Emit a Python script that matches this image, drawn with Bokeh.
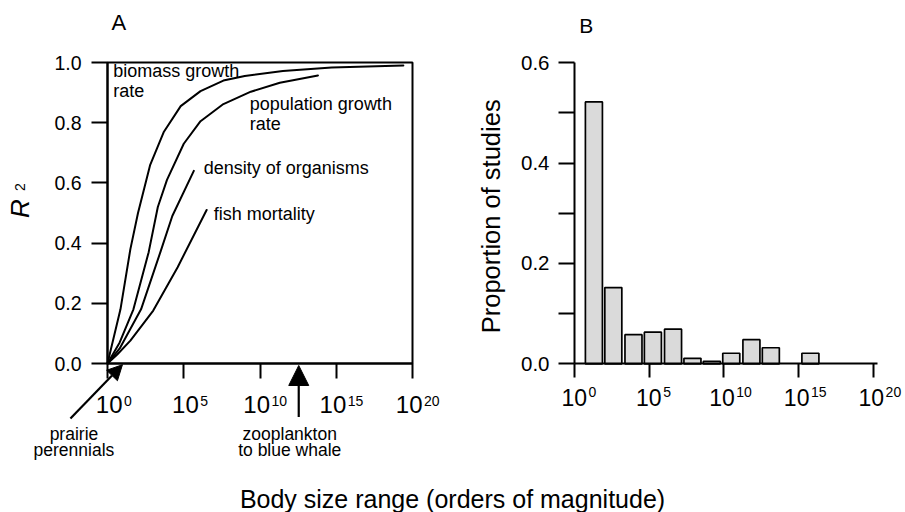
from bokeh.plotting import figure
from bokeh.models import (Range1d, FixedTicker, PrintfTickFormatter, Label, Arrow,
                          NormalHead, LinearAxis, BoxAnnotation)
from bokeh.layouts import column, row
from bokeh.embed import file_html
from bokeh.resources import INLINE

FONT = "Liberation Sans"

# ---------------- data ----------------
# x = body size range, log10 (orders of magnitude); y = R^2
size_exp_ticks = [0, 5, 10, 15, 20]
r2_ticks = [0.0, 0.2, 0.4, 0.6, 0.8, 1.0]

biomass_x = [0, 0.85, 1.5, 2.0, 2.8, 3.7, 4.8, 6.1, 7.6, 9.0, 11.5, 14.7, 19.4]
biomass_y = [0, 0.18, 0.38, 0.50, 0.66, 0.77, 0.855, 0.905, 0.94, 0.955, 0.972, 0.983, 0.99]

population_x = [0, 0.8, 1.7, 2.7, 3.3, 3.9, 5.0, 6.1, 7.6, 9.4, 11.3, 13.8]
population_y = [0, 0.07, 0.18, 0.37, 0.52, 0.61, 0.73, 0.805, 0.862, 0.903, 0.933, 0.957]

density_x = [0, 0.8, 2.2, 3.5, 4.25, 5.66]
density_y = [0, 0.05, 0.18, 0.375, 0.49, 0.64]

fish_x = [0, 0.64, 1.5, 3.0, 4.6, 6.5]
fish_y = [0, 0.03, 0.076, 0.176, 0.32, 0.51]

prairie_exp = 0.98
zooplankton_whale_exp = 12.54

# panel B histogram
bin_exp = [1.3, 2.6, 3.95, 5.25, 6.6, 7.9, 9.2, 10.5, 11.85, 13.15, 15.8]
proportion = [0.522, 0.152, 0.058, 0.063, 0.069, 0.011, 0.005, 0.021, 0.048, 0.032, 0.021]
prop_ticks = [0.0, 0.2, 0.4, 0.6]
prop_minor = [0.1, 0.3, 0.5]

# pixels per data unit (x, y) of each panel
SC_A = (15.25, 301.0)
SC_B = (14.93, 501.7)
SC_C = (1.0, 1.0)


def lab(p, sc, x, y, text, size, align="left", style="normal", x_offset=0):
    """(x, y) is the baseline anchor; Bokeh centres the text box on the anchor,
    so move the anchor from the baseline to the box centre."""
    y = y + 0.3465 * size / sc[1]
    p.add_layout(Label(x=x, y=y, text=text, text_font=FONT, text_font_size=f"{size}px",
                       text_align=align, text_baseline="middle",
                       text_font_style=style, text_color="black", x_offset=x_offset))


def vlab(p, x, y, text, size, style="normal"):
    """vertical (bottom-to-top) text centred on (x, y)."""
    p.add_layout(Label(x=x, y=y, text=text, text_font=FONT, text_font_size=f"{size}px",
                       text_align="center", text_baseline="middle", angle=90,
                       angle_units="deg", text_font_style=style, text_color="black"))


def add_axes(p, xbounds, ybounds, yticker, xtick_out, ytick_out, ystandoff, yfont):
    xa = LinearAxis(fixed_location=0, bounds=xbounds, ticker=FixedTicker(ticks=size_exp_ticks))
    ya = LinearAxis(fixed_location=0, bounds=ybounds, ticker=yticker,
                    formatter=PrintfTickFormatter(format="%.1f"))
    for ax in (xa, ya):
        ax.axis_line_width = 2
        ax.axis_line_color = "black"
        ax.major_tick_line_width = 2
        ax.major_tick_line_color = "black"
        ax.minor_tick_line_width = 2
        ax.minor_tick_line_color = "black"
        ax.major_tick_in = 0
        ax.minor_tick_in = 0
    xa.major_tick_out = xtick_out
    xa.minor_tick_out = 0
    xa.major_label_text_color = None
    ya.major_tick_out = ytick_out
    ya.minor_tick_out = ytick_out
    ya.major_label_standoff = ystandoff
    ya.major_label_text_font = FONT
    ya.major_label_text_font_size = yfont
    ya.major_label_text_color = "black"
    p.add_layout(xa, "below")
    p.add_layout(ya, "left")


def base_fig(width, height, xr, yr):
    p = figure(width=width, height=height, x_range=Range1d(*xr), y_range=Range1d(*yr),
               min_border=0, x_axis_location=None, y_axis_location=None,
               toolbar_location=None, output_backend="svg")
    p.outline_line_color = None
    p.grid.visible = False
    return p


# ---------------- panel A ----------------
pA = base_fig(463, 462, (-7.0164, 23.344), (-0.3289, 1.2060))
add_axes(pA, (0, 20), (0, 1), FixedTicker(ticks=r2_ticks), 15, 16, 10, "19.5px")
pA.add_layout(BoxAnnotation(left=0, right=20, bottom=0, top=1, fill_alpha=0,
                            line_color="black", line_alpha=1, line_width=2))

for xs, ys in [(biomass_x, biomass_y), (population_x, population_y),
               (density_x, density_y), (fish_x, fish_y)]:
    pA.line(xs, ys, line_color="black", line_width=2, line_join="round", line_cap="round")

lab(pA, SC_A, 0.37, 0.952, "biomass growth", 18)
lab(pA, SC_A, 0.37, 0.885, "rate", 18)
lab(pA, SC_A, 9.33, 0.841, "population growth", 18)
lab(pA, SC_A, 9.33, 0.776, "rate", 18)
lab(pA, SC_A, 6.31, 0.630, "density of organisms", 18)
lab(pA, SC_A, 6.97, 0.475, "fish mortality", 18)

lab(pA, SC_A, 0.75, 1.109, "A", 22, align="center")
vlab(pA, -5.75, 0.515, "R", 26, style="italic")
vlab(pA, -5.73, 0.586, "2", 14)

for t in size_exp_ticks:
    s = str(t)
    off = 15 if len(s) == 1 else 10
    lab(pA, SC_A, t, -0.164, "10", 24, align="right", x_offset=off)
    lab(pA, SC_A, t, -0.140, s, 14, align="left", x_offset=off + 1.5)

pA.add_layout(Arrow(end=NormalHead(size=15, fill_color="black", line_color="black"),
                    x_start=-2.43, y_start=-0.183, x_end=prairie_exp, y_end=-0.004,
                    line_width=2.2, line_color="black"))
pA.add_layout(Arrow(end=NormalHead(size=20, fill_color="black", line_color="black"),
                    x_start=zooplankton_whale_exp, y_start=-0.178,
                    x_end=zooplankton_whale_exp, y_end=-0.0066,
                    line_width=2.2, line_color="black"))
lab(pA, SC_A, -2.2, -0.256, "prairie", 17.5, align="center")
lab(pA, SC_A, -2.2, -0.309, "perennials", 17.5, align="center")
lab(pA, SC_A, 11.95, -0.256, "zooplankton", 17.5, align="center")
lab(pA, SC_A, 11.95, -0.306, "to blue whale", 17.5, align="center")

# ---------------- panel B ----------------
pB = base_fig(442, 462, (-7.4347, 22.170), (-0.19673, 0.72414))
add_axes(pB, (0, 20.29), (0, 0.6), FixedTicker(ticks=prop_ticks, minor_ticks=prop_minor),
         14, 16, 9, "20.5px")

pB.vbar(x=bin_exp, top=proportion, bottom=0, width=1.14,
        fill_color="#dadada", line_color="black", line_width=1.7)

lab(pB, SC_B, 0.79, 0.66, "B", 21, align="center")
vlab(pB, -5.61, 0.294, "Proportion of studies", 25.5)
for t in size_exp_ticks:
    s = str(t)
    off = 12.5 if len(s) == 1 else 11
    lab(pB, SC_B, t, -0.083, "10", 23, align="right", x_offset=off)
    lab(pB, SC_B, t, -0.0666, s, 14, align="left", x_offset=off + 1.5)

# ---------------- common x label ----------------
pC = base_fig(905, 50, (0, 905), (0, 50))
lab(pC, SC_C, 452, 5, "Body size range (orders of magnitude)", 25, align="center")

layout = column(row(pA, pB), pC)
open("out.html", "w").write(file_html(layout, INLINE))
